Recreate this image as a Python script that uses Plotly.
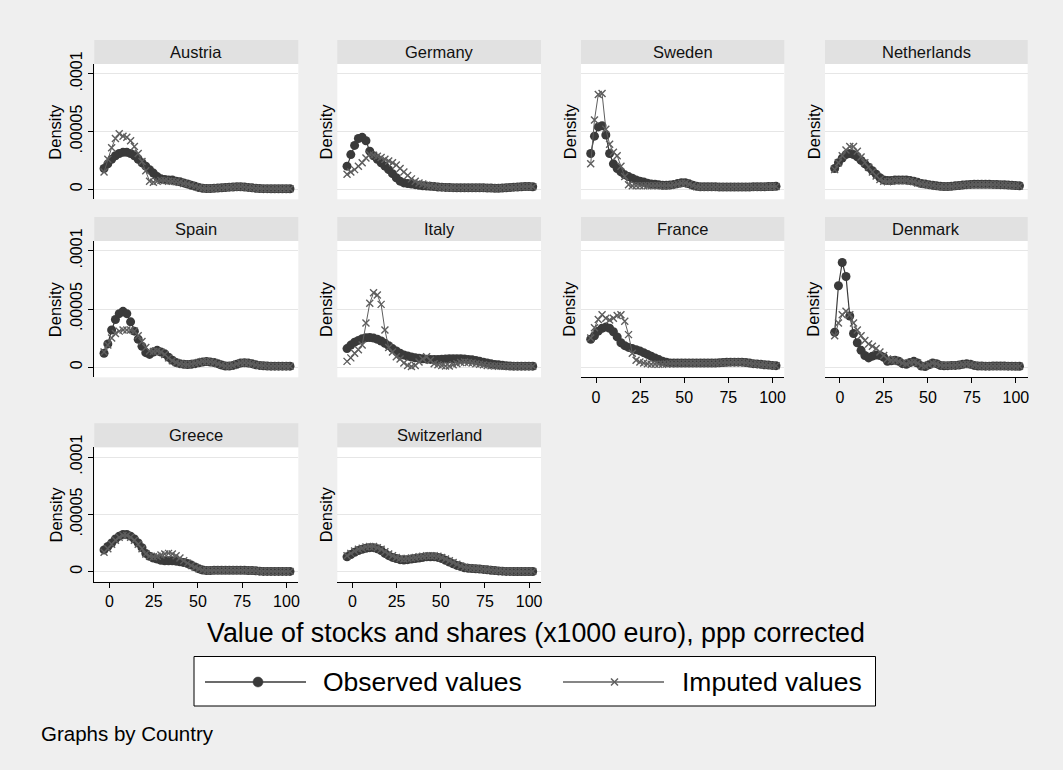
import plotly.graph_objects as go

W, H = 1063, 770

# Evaluation grid of the kernel density estimates (x1000 euro)
stock_value_grid = [
    -3.0, -0.86, 1.29, 3.43, 5.57, 7.71, 9.86, 12.0, 14.14, 16.29,
    18.43, 20.57, 22.71, 24.86, 27.0, 29.14, 31.29, 33.43, 35.57, 37.71,
    39.86, 42.0, 44.14, 46.29, 48.43, 50.57, 52.71, 54.86, 57.0, 59.14,
    61.29, 63.43, 65.57, 67.71, 69.86, 72.0, 74.14, 76.29, 78.43, 80.57,
    82.71, 84.86, 87.0, 89.14, 91.29, 93.43, 95.57, 97.71, 99.86, 102.0,
]

# Densities below are given in millionths (multiply by 1e-6)
austria_observed = [
    18, 22, 26, 29, 31, 32, 32, 31, 29, 26, 23, 20, 17, 14, 11, 9, 8.5, 8, 8, 7,
    6.5, 5.5, 4.5, 3.5, 2.5, 1.5, 0.8, 0.7, 0.7, 0.8, 1, 1.2, 1.5, 1.8, 2, 2.2,
    2.2, 2, 1.6, 1.2, 0.8, 0.6, 0.5, 0.5, 0.4, 0.4, 0.4, 0.4, 0.4, 0.4,
]
austria_imputed = [
    15, 26, 36, 44, 48, 46, 45, 42, 37, 31, 24, 16, 7, 6, 7, 7.5, 7.5, 7, 7, 6.5,
    6, 5, 4.5, 3.5, 2.5, 1.5, 0.8, 0.7, 0.7, 0.8, 1, 1.2, 1.5, 1.8, 2, 2.2,
    2.2, 2, 1.6, 1.2, 0.8, 0.6, 0.5, 0.5, 0.4, 0.4, 0.4, 0.4, 0.4, 0.4,
]
germany_observed = [
    20, 30, 38, 44, 45, 42, 33, 29, 26, 23, 20, 17, 13.5, 10, 7, 5.5, 5, 4.5, 4, 3.5,
    3, 2.8, 2.5, 2.3, 2, 1.8, 1.6, 1.5, 1.4, 1.3, 1.2, 1.2, 1.2, 1.2, 1.3, 1.3,
    1.2, 1.1, 1, 0.9, 0.9, 1, 1.2, 1.5, 1.8, 2, 2.2, 2.3, 2.3, 2.2,
]
germany_imputed = [
    13, 15, 17, 20, 23, 27, 30, 29.5, 28.5, 27.5, 26, 24.5, 23, 21, 18, 15, 12, 9, 7, 5.5,
    4.5, 3.5, 3, 2.5, 2, 1.7, 1.5, 1.4, 1.3, 1.2, 1.2, 1.2, 1.2, 1.2, 1.3, 1.3,
    1.2, 1.1, 1, 0.9, 0.9, 1, 1.2, 1.5, 1.8, 2, 2.2, 2.3, 2.3, 2.2,
]
sweden_observed = [
    31, 46, 54, 55, 47, 31, 22, 18, 15, 12.5, 11, 9.5, 8, 7, 6.3, 5.2, 4.6, 4.3, 3.8, 3.5,
    3.4, 3.6, 4.2, 5, 5.6, 5.6, 4.7, 3.5, 2.5, 2.2, 2.2, 2.2, 2.1, 2.1, 2, 2,
    2, 2, 2, 2, 2, 2, 2, 2.1, 2.1, 2.2, 2.2, 2.3, 2.4, 2.5,
]
sweden_imputed = [
    22, 60, 82, 83, 52, 39, 32, 29, 20, 11, 4, 3, 3, 3, 3, 3, 3, 3, 3, 3,
    3, 3.2, 3.8, 4.6, 5.2, 5.2, 4.4, 3.2, 2.2, 2, 2, 2, 2, 2, 1.9, 1.9,
    1.9, 1.9, 1.9, 1.9, 1.9, 1.9, 1.9, 2, 2, 2.1, 2.1, 2.2, 2.3, 2.4,
]
netherlands_observed = [
    18, 23, 27, 30, 31, 30, 28, 25, 22, 19, 16, 13, 10, 8, 7.5, 7.5, 8, 8, 8, 8,
    7.5, 7, 6, 5, 4.5, 4, 3.5, 3, 2.5, 2.3, 2.3, 2.5, 3, 3.3, 3.6, 4,
    4.2, 4.3, 4.3, 4.3, 4.3, 4.3, 4.2, 4.1, 4, 3.9, 3.7, 3.5, 3.2, 3,
]
netherlands_imputed = [
    17, 23, 29, 34, 37, 37, 33, 28, 23, 19, 15, 11.5, 8.5, 7, 6.5, 7, 7.5, 7.5, 7.5, 7.5,
    7, 6.5, 5.5, 4.7, 4.2, 3.7, 3.2, 2.7, 2.3, 2.1, 2.1, 2.3, 2.8, 3.1, 3.4, 3.8,
    4, 4.1, 4.1, 4.1, 4.1, 4.1, 4, 3.9, 3.8, 3.7, 3.5, 3.3, 3, 2.8,
]
spain_observed = [
    12, 20, 32, 41, 46, 48, 46, 39, 31, 24, 18, 12.5, 11, 13, 14.5, 13, 11.5, 8.5, 6, 4,
    3, 2.5, 2.3, 2.5, 3, 3.8, 4.5, 4.8, 4.5, 4, 3, 1.8, 1, 1, 1.5, 2.5,
    3.5, 3.8, 3.5, 3, 2, 1.5, 1.2, 1, 0.9, 0.9, 0.9, 0.9, 0.9, 0.9,
]
spain_imputed = [
    13, 19, 25, 29, 31, 32, 32, 32, 31, 27, 22, 17, 14, 13.5, 14, 13, 11, 8, 5.5, 4,
    3, 2.5, 2.3, 2.7, 3.3, 4, 4.8, 5, 4.6, 4, 3, 1.8, 1, 1, 1.5, 2.7,
    3.6, 3.8, 3.5, 3, 2, 1.5, 1.2, 1, 0.9, 0.9, 0.9, 0.9, 0.9, 0.9,
]
italy_observed = [
    16, 19, 21.5, 23, 24.5, 25.3, 25.5, 25, 24, 22.5, 20.5, 18.5, 16, 14, 12, 10.5, 9.6, 8.8, 8.1, 7.6,
    7.2, 6.9, 6.7, 6.6, 6.6, 6.8, 7.1, 7.2, 7.2, 7.2, 7.2, 7, 6.7, 6.3, 5.8, 5,
    4.3, 3.6, 2.9, 2.4, 2, 1.6, 1.2, 1, 0.9, 0.9, 0.9, 0.9, 0.9, 0.9,
]
italy_imputed = [
    5, 8, 12, 15, 19, 38, 55, 64, 62, 54, 32, 17, 13, 9, 7, 3.5, 1.5, 0.5, 1.5, 4.5,
    7, 9, 6, 3, 2, 1.5, 1, 1, 2, 3, 4, 4.5, 4, 3.5, 3, 2.5,
    2, 1.5, 1.2, 1, 0.9, 0.9, 0.9, 0.8, 0.8, 0.8, 0.8, 0.8, 0.8, 0.8,
]
france_observed = [
    24, 27, 31, 33.5, 34.5, 33.5, 30.5, 26, 21, 18.5, 17, 16, 15, 14, 12.5, 11, 9.5, 8, 6.5, 5.2,
    4.2, 3.7, 3.5, 3.5, 3.5, 3.5, 3.5, 3.5, 3.5, 3.5, 3.5, 3.5, 3.5, 3.6, 3.8, 4,
    4.2, 4.3, 4.3, 4.3, 4.3, 4, 3.5, 3, 2.8, 2.5, 2, 1.8, 1.5, 1.3,
]
france_imputed = [
    25, 34, 41, 45, 42, 40.5, 42, 44.5, 45, 39.5, 28, 12, 6, 4.5, 3.5, 3, 2.5, 2.5, 2.5, 2.5,
    2.8, 3, 3.2, 3.3, 3.3, 3.3, 3.3, 3.3, 3.3, 3.3, 3.3, 3.3, 3.3, 3.4, 3.6, 3.9,
    4.1, 4.2, 4.2, 4.2, 4.2, 3.9, 3.4, 3, 2.7, 2.4, 2, 1.7, 1.5, 1.2,
]
denmark_observed = [
    30, 70, 90, 78, 44, 29, 21, 14.5, 10, 8, 9.5, 10.5, 10, 8.5, 5, 5.5, 6, 5, 3, 2.5,
    4, 5, 3.5, 1, 0.5, 2, 3.5, 3, 1.5, 1.2, 1.3, 1.5, 1.5, 1.8, 2.5, 3,
    2.5, 1.5, 1, 1, 0.9, 0.9, 1, 1, 1, 1, 0.9, 0.9, 0.8, 0.8,
]
denmark_imputed = [
    27, 38, 45, 48, 45, 38, 32, 27, 23, 20, 18, 16, 13, 10, 7, 6, 6, 5, 3.5, 3,
    4, 4.5, 3.5, 1.5, 1, 2, 3.3, 3, 1.8, 1.4, 1.4, 1.5, 1.6, 1.8, 2.4, 2.8,
    2.4, 1.6, 1.1, 1, 0.9, 0.9, 0.9, 0.9, 0.9, 0.9, 0.9, 0.9, 0.8, 0.8,
]
greece_observed = [
    19, 22, 25, 28.5, 31, 32.5, 32.5, 31, 28.5, 25, 21, 16, 13.5, 12, 11, 10, 9.6, 9.6, 9.5, 9.2,
    8.7, 8, 7.2, 5.8, 4.2, 2.5, 1.5, 1, 1, 1.2, 1.2, 1.2, 1.2, 1.2, 1.2, 1.2,
    1.2, 1.2, 1.1, 1, 0.8, 0.5, 0.3, 0.3, 0.3, 0.3, 0.3, 0.3, 0.3, 0.3,
]
greece_imputed = [
    17, 20, 24, 27.5, 30, 31.5, 31.5, 30, 27.5, 24, 20, 15.5, 13.5, 13, 13.5, 14.5, 15.5, 16, 15.5, 14,
    12, 9.5, 7.5, 5.5, 4, 2.5, 1.5, 1, 1, 1.2, 1.2, 1.2, 1.2, 1.2, 1.2, 1.2,
    1.2, 1.2, 1.1, 1, 0.8, 0.5, 0.3, 0.3, 0.3, 0.3, 0.3, 0.3, 0.3, 0.3,
]
switzerland_observed = [
    13, 15, 17, 18.5, 19.5, 20.5, 21, 21, 20, 18.5, 16, 14, 12.5, 11.5, 10.5, 10.2, 10.5, 11, 11.5, 12,
    12.5, 13, 13, 13, 12.5, 11.5, 10, 8.5, 7, 5.5, 4.5, 3.5, 3, 2.8, 2.5, 2.3,
    2, 1.7, 1.3, 1, 0.7, 0.5, 0.3, 0.3, 0.2, 0.2, 0.2, 0.2, 0.2, 0.2,
]
switzerland_imputed = [
    14, 16, 18, 19.5, 20.5, 21.5, 22, 22, 21, 19.5, 17.5, 15.5, 14, 12.5, 11.5, 11, 11.5, 12, 12.5, 13,
    13.5, 14, 14, 14, 13.5, 12.5, 11, 9.5, 8, 6.5, 5, 4, 3.5, 3, 2.8, 2.5,
    2.2, 1.9, 1.5, 1.1, 0.8, 0.6, 0.4, 0.3, 0.3, 0.3, 0.3, 0.3, 0.3, 0.3,
]

countries = ["Austria", "Germany", "Sweden", "Netherlands", "Spain",
             "Italy", "France", "Denmark", "Greece", "Switzerland"]
observed_series = [austria_observed, germany_observed, sweden_observed,
                   netherlands_observed, spain_observed, italy_observed,
                   france_observed, denmark_observed, greece_observed,
                   switzerland_observed]
imputed_series = [austria_imputed, germany_imputed, sweden_imputed,
                  netherlands_imputed, spain_imputed, italy_imputed,
                  france_imputed, denmark_imputed, greece_imputed,
                  switzerland_imputed]

x_ticks = [0, 25, 50, 75, 100]
y_ticks = [0, 0.00005, 0.0001]
y_tick_text = ["0", ".00005", ".0001"]
DENSITY_UNIT = 1e-6

# panels that carry an x axis (bottom of each column)
x_axis_panels = {"France", "Denmark", "Greece", "Switzerland"}

# ---- layout geometry (pixels) ----
col_px = [(94.3, 298.3), (337.3, 541.0), (581.0, 784.3), (825.0, 1027.7)]
row_px = [(64.0, 199.3), (241.0, 377.3), (447.3, 581.7)]
STRIP_H = 24

BG = "#efefef"
STRIP_BG = "#e1e1e1"
OBS_COLOR = "#3a3a3a"
IMP_COLOR = "#5e5e5e"
FONT = "Liberation Sans, Arial, Helvetica, sans-serif"


def fx(p):
    return p / W


def fy(p):
    return 1 - p / H


fig = go.Figure()
shapes = []
annotations = []
layout_axes = {}

for k, name in enumerate(countries):
    r, c = divmod(k, 4)
    n = k + 1
    xa = "x" if n == 1 else f"x{n}"
    ya = "y" if n == 1 else f"y{n}"
    x0, x1 = col_px[c]
    top, bottom = row_px[r]

    fig.add_trace(go.Scatter(
        x=stock_value_grid,
        y=[v * DENSITY_UNIT for v in observed_series[k]],
        mode="lines+markers", name="Observed values", showlegend=False,
        line=dict(color=OBS_COLOR, width=1.2),
        marker=dict(symbol="circle", size=9, color=OBS_COLOR),
        xaxis=xa, yaxis=ya,
    ))
    fig.add_trace(go.Scatter(
        x=stock_value_grid,
        y=[v * DENSITY_UNIT for v in imputed_series[k]],
        mode="lines+markers", name="Imputed values", showlegend=False,
        line=dict(color=IMP_COLOR, width=1),
        marker=dict(symbol="x-thin", size=7,
                    line=dict(color=IMP_COLOR, width=1.4)),
        xaxis=xa, yaxis=ya,
    ))

    has_x = name in x_axis_panels
    xkey = "xaxis" if n == 1 else f"xaxis{n}"
    ykey = "yaxis" if n == 1 else f"yaxis{n}"
    layout_axes[xkey] = dict(
        domain=[fx(x0), fx(x1)], anchor=ya, range=[-8.5, 106.7],
        automargin=False, showgrid=False, zeroline=False,
        showline=has_x, linecolor="black", linewidth=1,
        ticks="outside" if has_x else "", ticklen=5, tickcolor="black",
        tickvals=x_ticks, showticklabels=has_x,
        tickfont=dict(size=16, color="black", family=FONT),
    )
    first_col = c == 0
    layout_axes[ykey] = dict(
        domain=[fy(bottom), fy(top)], anchor=xa, range=[-8.7e-6, 1.085e-4],
        automargin=False, showgrid=True, gridcolor="#e6e6e6", gridwidth=1,
        zeroline=False,
        showline=first_col, linecolor="black", linewidth=1,
        ticks="outside" if first_col else "", ticklen=5, tickcolor="black",
        tickvals=y_ticks, ticktext=y_tick_text, showticklabels=first_col,
        tickangle=-90, tickfont=dict(size=16, color="black", family=FONT),
    )

    # strip with the country name
    shapes.append(dict(type="rect", xref="paper", yref="paper",
                       x0=fx(x0), x1=fx(x1), y0=fy(top), y1=fy(top - STRIP_H),
                       fillcolor=STRIP_BG, line=dict(width=0), layer="below"))
    annotations.append(dict(text=name, xref="paper", yref="paper",
                            x=fx((x0 + x1) / 2), y=fy(top - STRIP_H / 2),
                            showarrow=False, xanchor="center", yanchor="middle",
                            font=dict(size=16.5, color="#111111", family=FONT)))
    # y-axis title
    title_x = 55 if first_col else x0 - 11.5
    annotations.append(dict(text="Density", xref="paper", yref="paper",
                            x=fx(title_x), y=fy((top + bottom) / 2),
                            textangle=-90, showarrow=False,
                            xanchor="center", yanchor="middle",
                            font=dict(size=16.5, color="black", family=FONT)))

# overall x-axis title
annotations.append(dict(text="Value of stocks and shares (x1000 euro), ppp corrected",
                        xref="paper", yref="paper", x=fx(535.5), y=fy(633),
                        showarrow=False, xanchor="center", yanchor="middle",
                        font=dict(size=26.8, color="black", family=FONT)))

# legend box
LEG_Y = 682
shapes.append(dict(type="rect", xref="paper", yref="paper",
                   x0=fx(194), x1=fx(875.5), y0=fy(706), y1=fy(656.5),
                   fillcolor="white", line=dict(color="black", width=1)))
shapes.append(dict(type="line", xref="paper", yref="paper",
                   x0=fx(205), x1=fx(306), y0=fy(LEG_Y), y1=fy(LEG_Y),
                   line=dict(color=OBS_COLOR, width=1.6)))
shapes.append(dict(type="circle", xref="paper", yref="paper",
                   x0=fx(253), x1=fx(263), y0=fy(687), y1=fy(677),
                   fillcolor=OBS_COLOR, line=dict(color=OBS_COLOR, width=0.5)))
shapes.append(dict(type="line", xref="paper", yref="paper",
                   x0=fx(563), x1=fx(664), y0=fy(LEG_Y), y1=fy(LEG_Y),
                   line=dict(color=IMP_COLOR, width=1.6)))
for dy in (-1, 1):
    shapes.append(dict(type="line", xref="paper", yref="paper",
                       x0=fx(611), x1=fx(618),
                       y0=fy(LEG_Y - 3.5 * dy), y1=fy(LEG_Y + 3.5 * dy),
                       line=dict(color=IMP_COLOR, width=1.5)))
annotations.append(dict(text="Observed values", xref="paper", yref="paper",
                        x=fx(321), y=fy(LEG_Y), showarrow=False,
                        xanchor="left", yanchor="middle",
                        font=dict(size=26.5, color="black", family=FONT)))
annotations.append(dict(text="Imputed values", xref="paper", yref="paper",
                        x=fx(680), y=fy(LEG_Y), showarrow=False,
                        xanchor="left", yanchor="middle",
                        font=dict(size=26.5, color="black", family=FONT)))

annotations.append(dict(text="Graphs by Country", xref="paper", yref="paper",
                        x=fx(39), y=fy(733), showarrow=False,
                        xanchor="left", yanchor="middle",
                        font=dict(size=20.5, color="black", family=FONT)))

fig.update_layout(
    width=W, height=H,
    margin=dict(l=0, r=0, t=0, b=0, pad=0, autoexpand=False),
    paper_bgcolor=BG, plot_bgcolor="white", showlegend=False,
    shapes=shapes, annotations=annotations,
    font=dict(family=FONT, color="black"),
    **layout_axes,
)

fig.write_html("out.html")
